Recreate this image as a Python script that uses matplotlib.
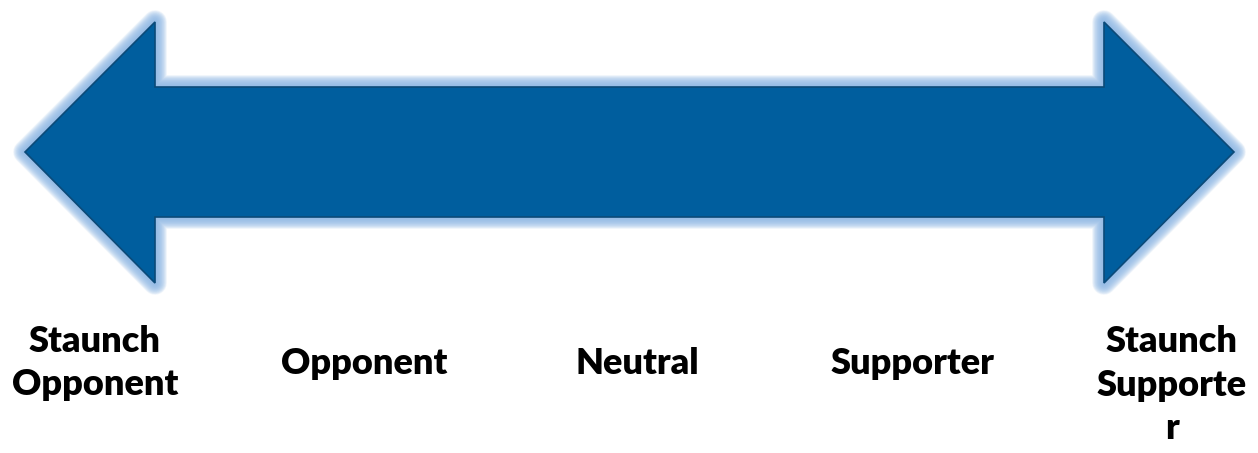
import numpy as np
import matplotlib.pyplot as plt
from matplotlib.patches import Polygon

# scale labels, left to right
labels = ['Staunch\nOpponent', 'Opponent', 'Neutral', 'Supporter', 'Staunch\nSupporte\nr']
label_x = [95, 364, 637, 912, 1172]      # px centres
label_y = [363, 363, 363, 363, 385]      # px centres

# double arrow geometry (px, y down)
tip_l, tip_r = 25, 1234
head_l, head_r = 155, 1104
head_top, head_bot = 22, 283
shaft_top, shaft_bot = 87, 217
mid_y = 152

W, H = 1258, 453
fig = plt.figure(figsize=(W / 100, H / 100), dpi=100)
ax = fig.add_axes([0, 0, 1, 1])
ax.set_xlim(0, W)
ax.set_ylim(H, 0)
ax.axis('off')

pts = np.array([
    [tip_l, mid_y], [head_l, head_top], [head_l, shaft_top],
    [head_r, shaft_top], [head_r, head_top], [tip_r, mid_y],
    [head_r, head_bot], [head_r, shaft_bot], [head_l, shaft_bot],
    [head_l, head_bot],
])

# soft glow
for lw in np.arange(17, 1, -1.0):
    ax.add_patch(Polygon(pts, closed=True, fill=False, edgecolor='#8FB8E6',
                         linewidth=lw, alpha=0.13, joinstyle='round'))
ax.add_patch(Polygon(pts, closed=True, facecolor='#005E9E',
                     edgecolor='#0B4A78', linewidth=1.2, joinstyle='miter'))

for txt, x, y in zip(labels, label_x, label_y):
    ax.text(x, y, txt, ha='center', va='center', fontsize=26,
            fontweight='heavy', family=['Lato', 'DejaVu Sans'],
            linespacing=1.38, color='black')

fig.savefig('out.png', dpi=100)
